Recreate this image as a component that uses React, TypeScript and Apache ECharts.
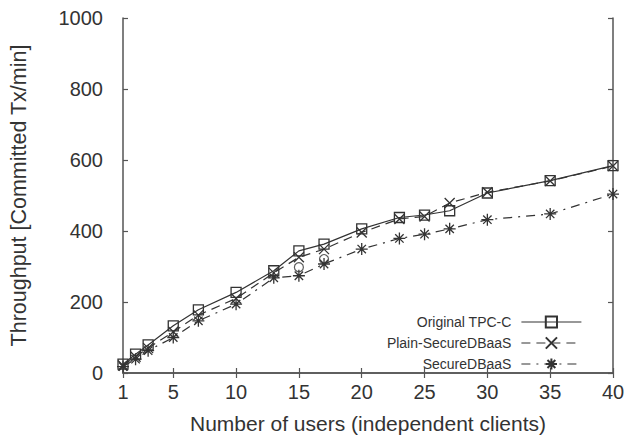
import React, { useEffect, useRef } from "react";
import * as echarts from "echarts";

const users = [1, 2, 3, 5, 7, 10, 13, 15, 17, 20, 23, 25, 27, 30, 35, 40];
const originalTPCC = [25, 53, 79, 133, 178, 227, 288, 344, 363, 406, 438, 445, 457, 507, 542, 584];
const plainSecureDBaaS = [21, 46, 70, 116, 163, 210, 282, 326, 349, 396, 434, 441, 479, 509, 541, 583];
const secureDBaaS = [18, 39, 63, 100, 147, 194, 268, 274, 307, 349, 379, 391, 406, 432, 448, 504];
const extraUsers = [15, 17];
const extraCircles = [298, 321];
const xTicks = [1, 5, 10, 15, 20, 25, 30, 35, 40];

const FONT = "Liberation Sans, Arial, Helvetica, sans-serif";
const INK = "#333";
const AXIS = "#555";

const crossPath = "path://M0,0L10,10M10,0L0,10";
const starPath = "path://M5,0L5,10M0,5L10,5M1.5,1.5L8.5,8.5M8.5,1.5L1.5,8.5";

export default function App() {
  const ref = useRef<HTMLDivElement>(null);
  useEffect(() => {
    if (!ref.current) return;
    const chart = echarts.init(ref.current, null, { renderer: "svg" });
    const pair = (ys: number[], xs: number[] = users) => xs.map((x, i) => [x, ys[i]]);
    chart.setOption({
      animation: false,
      backgroundColor: "#fff",
      grid: { left: 122, right: 17, top: 18, bottom: 65 },
      legend: {
        orient: "vertical",
        right: 43,
        top: 310,
        align: "right",
        itemWidth: 60,
        itemHeight: 14,
        itemGap: 7,
        lineStyle: { width: 1.2 },
        textStyle: { fontFamily: FONT, fontSize: 14, color: INK, padding: [0, 5, 0, 0] },
        data: ["Original TPC-C", "Plain-SecureDBaaS", "SecureDBaaS"],
      },
      xAxis: [
        {
          type: "value",
          min: 1,
          max: 40,
          position: "bottom",
          name: "Number of users (independent clients)",
          nameLocation: "middle",
          nameGap: 40,
          nameTextStyle: { fontFamily: FONT, fontSize: 21, color: INK },
          axisLine: { show: true, lineStyle: { color: AXIS, width: 1.5 } },
          axisTick: { show: true, inside: true, length: 5, customValues: xTicks, lineStyle: { color: AXIS, width: 1.2 } },
          axisLabel: { customValues: xTicks, margin: 9, fontFamily: FONT, fontSize: 20, color: INK },
          splitLine: { show: false },
        },
        {
          type: "value",
          min: 1,
          max: 40,
          position: "top",
          axisLine: { show: true, lineStyle: { color: AXIS, width: 1.5 } },
          axisTick: { show: true, inside: true, length: 5, customValues: xTicks, lineStyle: { color: AXIS, width: 1.2 } },
          axisLabel: { show: false },
          splitLine: { show: false },
        },
      ],
      yAxis: [
        {
          type: "value",
          min: 0,
          max: 1000,
          interval: 200,
          position: "left",
          name: "Throughput [Committed Tx/min]",
          nameLocation: "middle",
          nameGap: 93,
          nameTextStyle: { fontFamily: FONT, fontSize: 21.5, color: INK },
          axisLine: { show: true, lineStyle: { color: AXIS, width: 1.5 } },
          axisTick: { show: true, inside: true, length: 5, lineStyle: { color: AXIS, width: 1.2 } },
          axisLabel: { margin: 20, fontFamily: FONT, fontSize: 20, color: INK, formatter: (v: number) => String(v) },
          splitLine: { show: false },
        },
        {
          type: "value",
          min: 0,
          max: 1000,
          interval: 200,
          position: "right",
          axisLine: { show: true, lineStyle: { color: AXIS, width: 1.5 } },
          axisTick: { show: true, inside: true, length: 5, lineStyle: { color: AXIS, width: 1.2 } },
          axisLabel: { show: false },
          splitLine: { show: false },
        },
      ],
      series: [
        {
          name: "Original TPC-C",
          type: "line",
          data: pair(originalTPCC),
          symbol: "rect",
          symbolSize: 10,
          lineStyle: { color: INK, width: 1.2, type: "solid" },
          itemStyle: { color: "transparent", borderColor: INK, borderWidth: 1.3 },
          z: 3,
        },
        {
          name: "Plain-SecureDBaaS",
          type: "line",
          data: pair(plainSecureDBaaS),
          symbol: crossPath,
          symbolSize: 10,
          lineStyle: { color: INK, width: 1.2, type: [9, 6] },
          itemStyle: { color: "transparent", borderColor: INK, borderWidth: 1.3 },
          z: 2,
        },
        {
          name: "SecureDBaaS",
          type: "line",
          data: pair(secureDBaaS),
          symbol: starPath,
          symbolSize: 12,
          lineStyle: { color: INK, width: 1.2, type: [9, 6, 2, 6] },
          itemStyle: { color: "transparent", borderColor: INK, borderWidth: 1.3 },
          z: 2,
        },
        {
          name: "extra",
          type: "scatter",
          data: pair(extraCircles, extraUsers),
          symbol: "circle",
          symbolSize: 9,
          itemStyle: { color: "transparent", borderColor: INK, borderWidth: 1.2 },
          z: 1,
        },
      ],
    });
    return () => chart.dispose();
  }, []);
  return <div ref={ref} style={{ width: 630, height: 439, position: "absolute", left: 0, top: 0 }} />;
}
